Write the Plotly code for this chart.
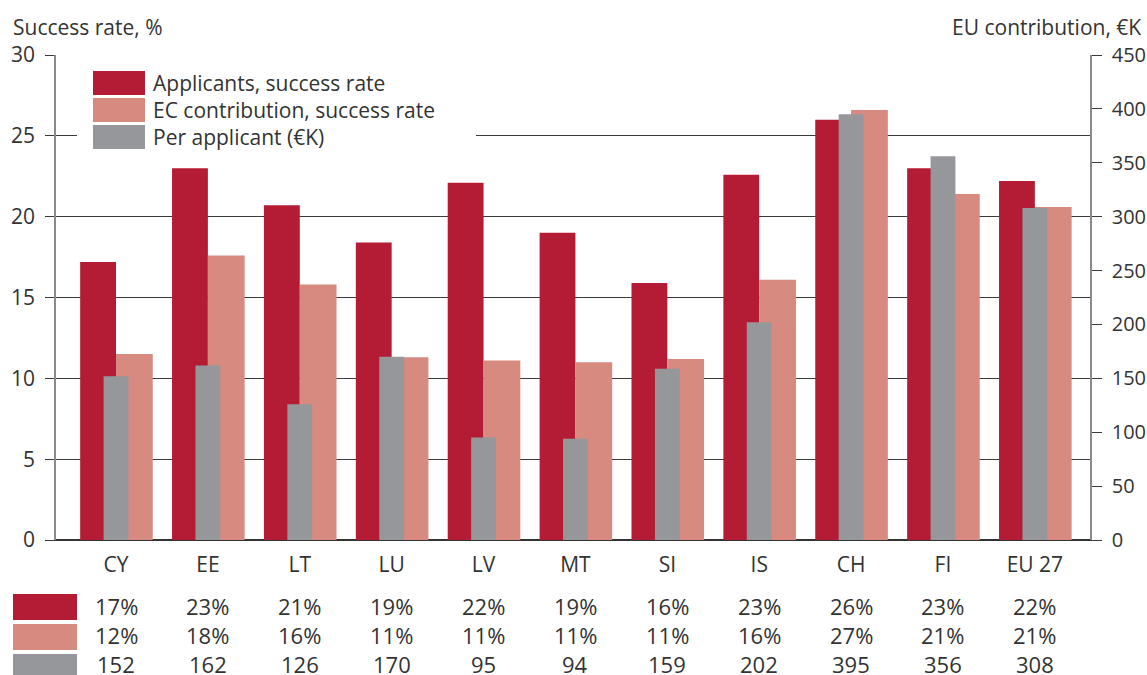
import plotly.graph_objects as go

categories = ["CY", "EE", "LT", "LU", "LV", "MT", "SI", "IS", "CH", "FI", "EU 27"]
applicants_rate = [17.2, 23.0, 20.7, 18.4, 22.1, 19.0, 15.9, 22.6, 26.0, 23.0, 22.2]
ec_rate = [11.5, 17.6, 15.8, 11.3, 11.1, 11.0, 11.2, 16.1, 26.6, 21.4, 20.6]
per_applicant = [152, 162, 126, 170, 95, 94, 159, 202, 395, 356, 308]

table_applicants = ["17%", "23%", "21%", "19%", "22%", "19%", "16%", "23%", "26%", "23%", "22%"]
table_ec = ["12%", "18%", "16%", "11%", "11%", "11%", "11%", "16%", "27%", "21%", "21%"]
table_per = ["152", "162", "126", "170", "95", "94", "159", "202", "395", "356", "308"]

series_names = ["Applicants, success rate", "EC contribution, success rate", "Per applicant (\u20acK)"]

RED = "#B41C35"
PINK = "#D68A80"
GREY = "#96979B"
TEXT = "#333333"
FONT = "Open Sans"

W, H = 1147, 675
L, R, T, B = 56, 1090, 55, 540  # plot area in pixels
X_RANGE = [-0.653, 10.6]  # category axis: CY centred at ~116px, EU 27 at ~1035px


def px(x):
    return (x - L) / (R - L)


def py(y):
    return (B - y) / (B - T)


fig = go.Figure()

fig.add_trace(go.Bar(
    x=categories, y=applicants_rate, name=series_names[0],
    marker=dict(color=RED, line_width=0), width=0.39, offset=-0.39,
    showlegend=False,
))
fig.add_trace(go.Bar(
    x=categories, y=ec_rate, name=series_names[1],
    marker=dict(color=PINK, line_width=0), width=0.40, offset=0,
    showlegend=False,
))
fig.add_trace(go.Bar(
    x=categories, y=per_applicant, name=series_names[2], yaxis="y2",
    marker=dict(color=GREY, line_width=0), width=0.27, offset=-0.135,
    showlegend=False,
))

shapes = []
annotations = []

# legend box (white, covers gridlines)
shapes.append(dict(type="rect", xref="paper", yref="paper",
                   x0=px(77), x1=px(476), y0=py(153), y1=py(62),
                   fillcolor="white", line_width=0, layer="above"))
legend_colors = [RED, PINK, GREY]
for i, (name, col) in enumerate(zip(series_names, legend_colors)):
    top = 71 + i * 27
    shapes.append(dict(type="rect", xref="paper", yref="paper",
                       x0=px(93), x1=px(145), y0=py(top + 24), y1=py(top),
                       fillcolor=col, line_width=0, layer="above"))
    annotations.append(dict(x=px(151), y=py(top + 12), xref="paper", yref="paper",
                            text=name, showarrow=False, xanchor="left", yanchor="middle",
                            font=dict(family=FONT, size=21, color=TEXT)))

# table below chart
rows = [table_applicants, table_ec, table_per]
for i, (row, col) in enumerate(zip(rows, legend_colors)):
    top = 594 + i * 30
    shapes.append(dict(type="rect", xref="paper", yref="paper",
                       x0=px(13), x1=px(77), y0=py(top + 26), y1=py(top),
                       fillcolor=col, line_width=0))
    for cat, txt in zip(categories, row):
        annotations.append(dict(x=cat, y=py(top + 12 - i), xref="x", yref="paper",
                                text=txt, showarrow=False, xanchor="center", yanchor="middle",
                                font=dict(family=FONT, size=22, color=TEXT)))

# axis titles
annotations.append(dict(x=px(11), y=py(27), xref="paper", yref="paper",
                        text="Success rate, %", showarrow=False, xanchor="left", yanchor="middle",
                        font=dict(family=FONT, size=21, color=TEXT)))
annotations.append(dict(x=px(1143), y=py(27), xref="paper", yref="paper",
                        text="EU contribution, \u20acK", showarrow=False, xanchor="right", yanchor="middle",
                        font=dict(family=FONT, size=21, color=TEXT)))

fig.update_layout(
    width=W, height=H,
    margin=dict(l=L, r=W - R, t=T, b=H - B, pad=0, autoexpand=False),
    paper_bgcolor="white", plot_bgcolor="white",
    barmode="overlay",
    font=dict(family=FONT, size=21, color=TEXT),
    shapes=shapes, annotations=annotations,
    xaxis=dict(
        type="category", range=X_RANGE, automargin=False,
        showline=True, linecolor="#333333", linewidth=1,
        ticks="", tickfont=dict(size=21, color=TEXT), ticklabelstandoff=6,
        showgrid=False,
    ),
    yaxis=dict(
        range=[0, 30], dtick=5, automargin=False,
        showgrid=True, gridcolor="#3a3a3a", gridwidth=1,
        showline=True, linecolor="#8a8a8a", linewidth=1.5,
        ticks="outside", ticklen=9, tickcolor="#3a3a3a",
        tickfont=dict(size=21, color=TEXT), ticklabelstandoff=6,
        zeroline=True, zerolinecolor="#333333",
    ),
    yaxis2=dict(
        range=[0, 450], dtick=50, overlaying="y", side="right", automargin=False,
        showgrid=False, showline=True, linecolor="#8a8a8a", linewidth=1.5,
        ticks="outside", ticklen=10, tickcolor="#3a3a3a",
        tickfont=dict(size=20, color=TEXT), ticklabelstandoff=6,
        zeroline=False,
    ),
)

fig.write_html("out.html", config={"displayModeBar": False},
               post_script="document.body.style.margin='0';")
